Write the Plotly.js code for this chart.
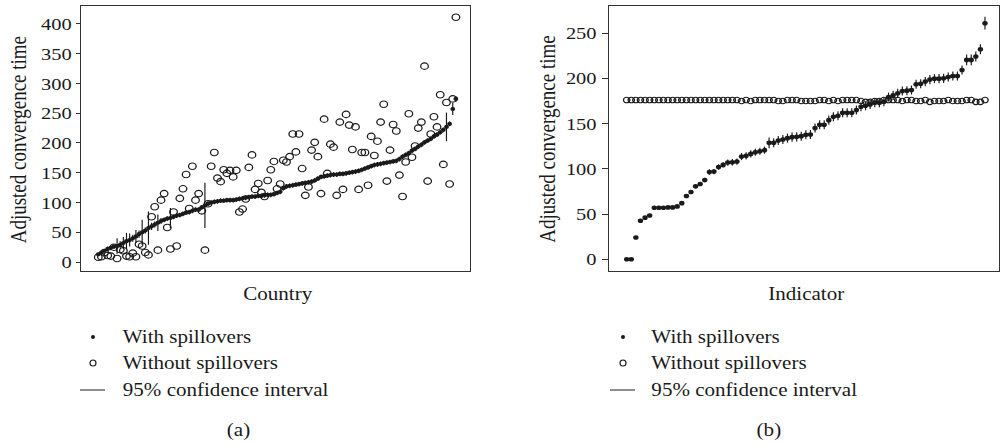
<!DOCTYPE html>
<html><head><meta charset="utf-8">
<script src="https://cdn.plot.ly/plotly-3.0.1.min.js"></script>
<style>
html,body{margin:0;padding:0;background:#fff;overflow:hidden}
#wrap{width:1001px;height:444px;overflow:hidden}
#chart{width:856px;height:444px;transform:scaleX(1.1694);transform-origin:0 0}
</style>
</head><body><div id="wrap"><div id="chart"></div></div>
<script>
// ---- Panel (a): countries, sorted by adjusted convergence time with spillovers ----
const countryWith = [13,16,19,22,24,26,27,29,32,35,37,40,43,47,50,53,57,60,63,66,69,71,73,74,76,78,79,81,83,84,86,88,88,92,95,98,100,101,102,103,103,104,104,104,105,106,107,108,109,110,110,111,111,112,113,113,114,116,118,124,127,128,129,130,131,132,133,134,135,137,140,143,144,145,146,147,147,148,148,149,150,151,152,153,155,157,159,161,163,164,165,166,167,168,169,170,173,177,180,183,187,190,194,197,201,204,207,211,214,218,222,227,232,257,274];
const countryWithout = [8,9,16,11,10,25,6,21,19,10,9,15,9,30,27,16,12,76,93,20,104,115,58,22,84,27,107,123,147,90,161,104,115,86,20,98,161,184,141,135,155,149,154,143,154,84,89,106,159,180,122,132,117,110,137,155,169,123,131,171,168,177,215,185,215,157,112,126,188,201,177,115,240,149,198,193,112,235,122,248,230,189,227,122,184,184,129,211,179,203,235,265,136,188,231,220,146,110,168,249,176,195,225,235,329,136,215,244,227,281,164,268,131,274,411];
const countryCI = [3,3,3,4,4,4,13,6,10,14,11,6,11,6,21,5,28,6,5,14,5,4,4,17,4,4,4,4,4,4,4,4,4,4,38,4,4,4,4,4,4,4,4,4,4,4,4,4,4,4,4,4,4,4,4,4,4,4,4,4,4,4,4,4,4,4,4,4,4,4,4,4,4,4,4,4,4,4,4,4,4,4,4,4,4,4,4,4,4,4,4,4,4,4,4,4,4,4,4,4,4,4,4,4,4,4,4,4,4,4,4,24,4,10,5];
const countryTicks = [0,50,100,150,200,250,300,350,400];

// ---- Panel (b): indicators ----
const indicatorWith = [0,0,24,42.5,46,48.4,57,57,57,57.3,57.3,58.4,62,70,74.3,80.6,83.2,87.6,96.5,96.9,102,104.3,106.9,107.2,108,113.5,114.3,116.5,118.3,119.4,120.6,128.7,128.7,131.3,132.4,133.9,135,135.3,136.1,137.6,137.9,145,148.7,148.7,153.8,157.5,158.6,162,162,162,164.9,168.6,169.7,171.2,173,173,174.2,179.3,181.2,183.4,186,186.4,187.1,193.4,194.1,196.4,198.6,199.7,199.7,200,201.5,202.6,202.6,209.3,220.4,220.4,224.1,232.2,261];
const indicatorWithout = [176,176,176,176,176,176,176,176,176,176,176,176,176,176,176,176,176,176,176,176,176,176,176,176,176,175,176,175,176,176,176,176,176,175,175,176,176,176,175,175,175,175,176,176,175,176,175,176,176,176,176,175,174,174,175,175,176,176,176,176,175,176,176,175,175,176,174,175,175,175,176,175,175,175,176,176,174,174,176];
const indicatorCI = [0.5,0.5,1,1,1,1,1,1,1,1,1,1,1.5,2,2,2,2,2.5,3,3,3,3,3.5,3.5,3.5,4,4,4,4,4,4,6,5,5,5,5,5,5,5,5,5,5,5,5,5,5,5,5,5,5,5,5,5,5,5,5,5,5,5,5,5,5,5,5,5,5,5,5,5,5,5,5,5,5,6,6,5.5,5.5,7];
const indicatorTicks = [0,50,100,150,200,250];

const legendLabels = ['With spillovers','Without spillovers','95% confidence interval'];
const panelCaptions = ['(a)','(b)'];
const xTitles = ['Country','Indicator'];
const yTitle = 'Adjusted convergence time';

const FONT = '"Liberation Serif", "Times New Roman", serif';
const INK = '#1a1a1a';
const SX = 1.1694; // horizontal stretch applied by CSS
const idx = a => a.map((_, i) => i);

const traces = [
  {x: idx(countryWithout), y: countryWithout, xaxis:'x', yaxis:'y', type:'scatter', mode:'markers',
   marker:{symbol:'circle-open', size:6.5, color:INK, line:{width:1.1, color:INK}}, hoverinfo:'skip'},
  {x: idx(countryWith), y: countryWith, xaxis:'x', yaxis:'y', type:'scatter', mode:'markers',
   marker:{symbol:'circle', size:4.2, color:INK},
   error_y:{type:'data', array:countryCI, visible:true, width:0, thickness:1, color:INK}, hoverinfo:'skip'},
  {x: idx(indicatorWithout), y: indicatorWithout, xaxis:'x2', yaxis:'y2', type:'scatter', mode:'markers',
   marker:{symbol:'circle-open', size:5.5, color:INK, line:{width:1.1, color:INK}}, hoverinfo:'skip'},
  {x: idx(indicatorWith), y: indicatorWith, xaxis:'x2', yaxis:'y2', type:'scatter', mode:'markers',
   marker:{symbol:'circle', size:4.6, color:INK},
   error_y:{type:'data', array:indicatorCI, visible:true, width:0, thickness:1, color:INK}, hoverinfo:'skip'}
];

const W = 1001, H = 444;
const px = v => v / W;
const py = v => 1 - v / H;
const axisBase = {showline:true, mirror:true, linecolor:'#333', linewidth:1, zeroline:false, showgrid:false};
const yDomain = [py(271), py(6)];

const annotations = [];
const shapes = [];
function addText(text, x, y, opts) {
  annotations.push(Object.assign({text, x:px(x), y:py(y), xref:'paper', yref:'paper', showarrow:false,
    xanchor:'center', yanchor:'middle', font:{family:FONT, size:18, color:INK}}, opts || {}));
}
addText(yTitle, 18, 139, {textangle:-90, font:{family:FONT, size:19, color:INK}});
addText(yTitle, 547, 139, {textangle:-90, font:{family:FONT, size:19, color:INK}});
addText(xTitles[0], 278, 294);
addText(xTitles[1], 806, 294);
addText(panelCaptions[0], 239, 430);
addText(panelCaptions[1], 769, 430);
const legendLeft = [[93, 120], [623, 649]];
const rowsY = [337, 363, 390];
legendLeft.forEach(([sx, tx]) => {
  legendLabels.forEach((lab, k) => addText(lab, tx, rowsY[k], {xanchor:'left'}));
  shapes.push({type:'circle', xref:'paper', yref:'paper', x0:px(sx-2), x1:px(sx+2), y0:py(rowsY[0]+2), y1:py(rowsY[0]-2),
    fillcolor:INK, line:{width:0}});
  shapes.push({type:'circle', xref:'paper', yref:'paper', x0:px(sx-3), x1:px(sx+3), y0:py(rowsY[1]+3), y1:py(rowsY[1]-3),
    fillcolor:'rgba(0,0,0,0)', line:{width:1, color:INK}});
  shapes.push({type:'line', xref:'paper', yref:'paper', x0:px(sx-13), x1:px(sx+12), y0:py(rowsY[2]), y1:py(rowsY[2]),
    line:{width:1, color:INK}});
});

const layout = {
  width:856, height:H, margin:{l:0, r:0, t:0, b:0}, autosize:false,
  paper_bgcolor:'#fff', plot_bgcolor:'#fff', showlegend:false,
  font:{family:FONT, size:16, color:INK},
  xaxis:Object.assign({}, axisBase, {domain:[px(81), px(470)], range:[-5.5, 118.5], showticklabels:false, ticks:'', anchor:'y'}),
  yaxis:Object.assign({}, axisBase, {domain:yDomain, range:[-15, 430], tickmode:'array', tickvals:countryTicks,
    ticks:'outside', ticklen:4/SX, tickcolor:'#333', ticklabelstandoff:4/SX, anchor:'x', tickfont:{family:FONT, size:17.5, color:INK}}),
  xaxis2:Object.assign({}, axisBase, {domain:[px(609), px(999)], range:[-3.85, 81.05], showticklabels:false, ticks:'', anchor:'y2'}),
  yaxis2:Object.assign({}, axisBase, {domain:yDomain, range:[-13, 280], tickmode:'array', tickvals:indicatorTicks,
    ticks:'outside', ticklen:6/SX, tickcolor:'#333', ticklabelstandoff:1, anchor:'x2', tickfont:{family:FONT, size:17.5, color:INK}}),
  annotations, shapes
};

Plotly.newPlot('chart', traces, layout, {staticPlot:true, displayModeBar:false});
</script></body></html>
